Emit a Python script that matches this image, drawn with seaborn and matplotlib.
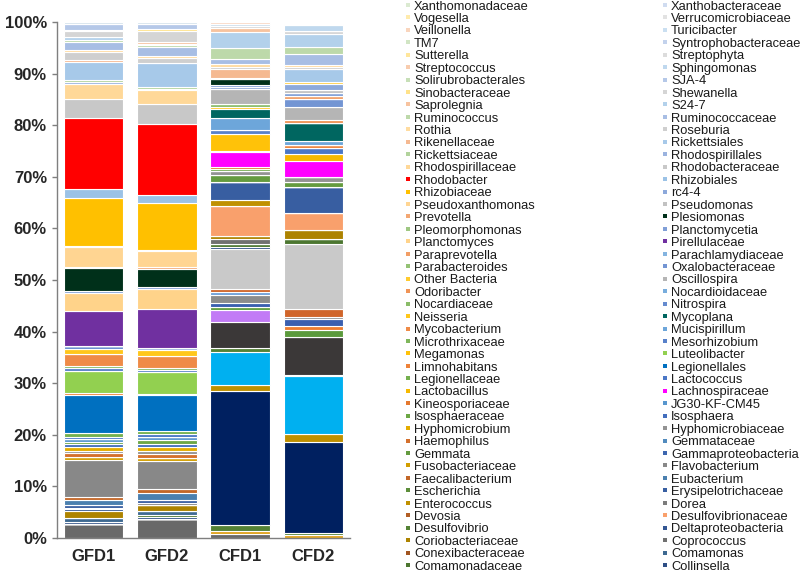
import numpy as np
import pandas as pd
import matplotlib
matplotlib.use('Agg')
import matplotlib.pyplot as plt
import seaborn as sns
from matplotlib.colors import to_rgb, to_hex
from matplotlib.patches import Rectangle

samples = ['GFD1', 'GFD2', 'CFD1', 'CFD2']

# series stacked below Collinsella whose names the original legend cut off
unlisted = ['unlisted_%02d' % i for i in range(1, 17)]

# legend taxa, bottom of the stack to top
taxa = ['Collinsella', 'Comamonadaceae', 'Comamonas', 'Conexibacteraceae', 'Coprococcus',
        'Coriobacteriaceae', 'Deltaproteobacteria', 'Desulfovibrio', 'Desulfovibrionaceae',
        'Devosia', 'Dorea', 'Enterococcus', 'Erysipelotrichaceae', 'Escherichia', 'Eubacterium',
        'Faecalibacterium', 'Flavobacterium', 'Fusobacteriaceae', 'Gammaproteobacteria', 'Gemmata',
        'Gemmataceae', 'Haemophilus', 'Hyphomicrobiaceae', 'Hyphomicrobium', 'Isosphaera',
        'Isosphaeraceae', 'JG30-KF-CM45', 'Kineosporiaceae', 'Lachnospiraceae', 'Lactobacillus',
        'Lactococcus', 'Legionellaceae', 'Legionellales', 'Limnohabitans', 'Luteolibacter',
        'Megamonas', 'Mesorhizobium', 'Microthrixaceae', 'Mucispirillum', 'Mycobacterium',
        'Mycoplana', 'Neisseria', 'Nitrospira', 'Nocardiaceae', 'Nocardioidaceae', 'Odoribacter',
        'Oscillospira', 'Other Bacteria', 'Oxalobacteraceae', 'Parabacteroides',
        'Parachlamydiaceae', 'Paraprevotella', 'Pirellulaceae', 'Planctomyces', 'Planctomycetia',
        'Pleomorphomonas', 'Plesiomonas', 'Prevotella', 'Pseudomonas', 'Pseudoxanthomonas',
        'rc4-4', 'Rhizobiaceae', 'Rhizobiales', 'Rhodobacter', 'Rhodobacteraceae',
        'Rhodospirillaceae', 'Rhodospirillales', 'Rickettsiaceae', 'Rickettsiales', 'Rikenellaceae',
        'Roseburia', 'Rothia', 'Ruminococcaceae', 'Ruminococcus', 'S24-7', 'Saprolegnia',
        'Shewanella', 'Sinobacteraceae', 'SJA-4', 'Solirubrobacterales', 'Sphingomonas',
        'Streptococcus', 'Streptophyta', 'Sutterella', 'Syntrophobacteraceae', 'TM7',
        'Turicibacter', 'Veillonella', 'Verrucomicrobiaceae', 'Vogesella', 'Xanthobacteraceae',
        'Xanthomonadaceae']

# relative abundance (%)
gfd1 = {'unlisted_01': 2.7, 'Collinsella': 0.4, 'Comamonas': 0.7, 'Coriobacteriaceae': 1.4,
        'Deltaproteobacteria': 0.4, 'Desulfovibrio': 0.3, 'Erysipelotrichaceae': 0.4,
        'Eubacterium': 1.1, 'Faecalibacterium': 0.6, 'Flavobacterium': 7.2,
        'Fusobacteriaceae': 0.5, 'Haemophilus': 0.7, 'Hyphomicrobiaceae': 0.5,
        'Hyphomicrobium': 0.7, 'Isosphaera': 0.6, 'Isosphaeraceae': 0.4, 'JG30-KF-CM45': 0.5,
        'Lactococcus': 0.5, 'Legionellaceae': 0.8, 'Legionellales': 7.4, 'Limnohabitans': 0.3,
        'Luteolibacter': 4.3, 'Mesorhizobium': 0.6, 'Microthrixaceae': 0.3, 'Mycobacterium': 2.3,
        'Neisseria': 1.1, 'Nitrospira': 0.5, 'Pirellulaceae': 6.8, 'Planctomyces': 3.5,
        'Planctomycetia': 0.4, 'Plesiomonas': 4.4, 'Prevotella': 0.3, 'Pseudoxanthomonas': 3.7,
        'rc4-4': 0.2, 'Rhizobiaceae': 9.3, 'Rhizobiales': 1.8, 'Rhodobacter': 13.7,
        'Rhodobacteraceae': 3.8, 'Rhodospirillaceae': 2.8, 'Rhodospirillales': 0.4,
        'Rickettsiaceae': 0.5, 'Rickettsiales': 3.5, 'Rikenellaceae': 0.3, 'Roseburia': 1.5,
        'Rothia': 0.5, 'Ruminococcaceae': 1.6, 'Ruminococcus': 0.4, 'S24-7': 0.4,
        'Shewanella': 1.3, 'Sinobacteraceae': 0.2, 'SJA-4': 1.1, 'Sphingomonas': 0.4}

gfd2 = {'unlisted_01': 3.6, 'Collinsella': 0.5, 'Comamonadaceae': 0.3, 'Comamonas': 0.9,
        'Coriobacteriaceae': 1.0, 'Dorea': 0.5, 'Erysipelotrichaceae': 0.5, 'Eubacterium': 1.4,
        'Faecalibacterium': 0.7, 'Flavobacterium': 5.5, 'Fusobacteriaceae': 0.7,
        'Haemophilus': 0.6, 'Hyphomicrobiaceae': 0.7, 'Hyphomicrobium': 0.7, 'Isosphaera': 0.7,
        'Isosphaeraceae': 0.7, 'JG30-KF-CM45': 0.6, 'Lactococcus': 0.5, 'Legionellaceae': 0.7,
        'Legionellales': 6.9, 'Limnohabitans': 0.3, 'Luteolibacter': 4.2, 'Mesorhizobium': 0.4,
        'Microthrixaceae': 0.3, 'Mycobacterium': 2.4, 'Neisseria': 1.1, 'Nitrospira': 0.4,
        'Pirellulaceae': 7.5, 'Planctomyces': 3.9, 'Planctomycetia': 0.5, 'Plesiomonas': 3.4,
        'Prevotella': 0.5, 'Pseudoxanthomonas': 3.0, 'rc4-4': 0.3, 'Rhizobiaceae': 9.0,
        'Rhizobiales': 1.5, 'Rhodobacter': 13.8, 'Rhodobacteraceae': 3.9,
        'Rhodospirillaceae': 2.7, 'Rhodospirillales': 0.3, 'Rickettsiaceae': 0.4,
        'Rickettsiales': 4.5, 'Roseburia': 1.1, 'Rothia': 0.4, 'Ruminococcaceae': 1.7,
        'Ruminococcus': 0.3, 'S24-7': 0.3, 'Saprolegnia': 0.3, 'Shewanella': 2.2,
        'Sinobacteraceae': 0.3, 'SJA-4': 1.0, 'Sphingomonas': 0.4}

cfd1 = {'unlisted_01': 0.8, 'unlisted_02': 0.6, 'unlisted_03': 1.1, 'unlisted_04': 26.0,
        'unlisted_05': 1.1, 'unlisted_06': 6.4, 'unlisted_07': 0.9, 'unlisted_08': 5.0,
        'unlisted_09': 2.3, 'unlisted_10': 0.5, 'unlisted_12': 0.8, 'unlisted_13': 1.5,
        'unlisted_14': 0.6, 'unlisted_15': 0.6, 'unlisted_16': 7.9, 'Collinsella': 0.3,
        'Comamonadaceae': 0.5, 'Coprococcus': 1.0, 'Coriobacteriaceae': 0.6,
        'Desulfovibrionaceae': 5.8, 'Enterococcus': 1.2, 'Erysipelotrichaceae': 3.5,
        'Gemmata': 1.3, 'Hyphomicrobiaceae': 0.8, 'Isosphaeraceae': 0.4, 'Kineosporiaceae': 0.4,
        'Lachnospiraceae': 2.9, 'Lactobacillus': 0.2, 'Megamonas': 3.3, 'Mesorhizobium': 0.7,
        'Mucispirillum': 2.3, 'Mycoplana': 1.8, 'Neisseria': 0.5, 'Nocardiaceae': 0.6,
        'Oscillospira': 2.8, 'Oxalobacteraceae': 0.4, 'Planctomycetia': 0.4, 'Plesiomonas': 1.1,
        'Pseudomonas': 0.3, 'Rikenellaceae': 1.6, 'Roseburia': 0.5, 'Rothia': 0.6,
        'Ruminococcaceae': 0.9, 'Ruminococcus': 2.2, 'S24-7': 3.1, 'Saprolegnia': 0.7,
        'Shewanella': 0.5, 'Sphingomonas': 0.4, 'Veillonella': 0.3}

cfd2 = {'unlisted_02': 0.6, 'unlisted_03': 0.4, 'unlisted_04': 17.7, 'unlisted_05': 1.5,
        'unlisted_06': 11.1, 'unlisted_07': 0.3, 'unlisted_08': 7.4, 'unlisted_10': 1.4,
        'unlisted_11': 0.7, 'unlisted_12': 1.4, 'unlisted_13': 0.4, 'unlisted_15': 1.4,
        'unlisted_16': 12.7, 'Comamonadaceae': 1.0, 'Coriobacteriaceae': 1.7,
        'Desulfovibrionaceae': 3.2, 'Erysipelotrichaceae': 5.1, 'Gemmata': 0.9,
        'Hyphomicrobiaceae': 1.0, 'Lachnospiraceae': 3.2, 'Lactobacillus': 1.4,
        'Lactococcus': 1.0, 'Limnohabitans': 0.6, 'Mucispirillum': 0.9, 'Mycoplana': 3.4,
        'Odoribacter': 0.6, 'Oscillospira': 2.5, 'Oxalobacteraceae': 1.6, 'Paraprevotella': 0.6,
        'Planctomycetia': 0.5, 'Pseudomonas': 0.6, 'rc4-4': 1.1, 'Rhizobiaceae': 0.5,
        'Rickettsiales': 2.4, 'Roseburia': 0.4, 'Rothia': 0.4, 'Ruminococcaceae': 2.2,
        'Ruminococcus': 1.3, 'S24-7': 2.6, 'Shewanella': 0.6, 'Sphingomonas': 1.1,
        'Streptophyta': 0.3}

# colours: Office accent cycle, darker at the bottom of the stack, lighter on top
office = ['#4472C4', '#70AD47', '#5B9BD5', '#ED7D31', '#A5A5A5', '#FFC000']


def shade(i):
    rgb = np.array(to_rgb(office[i % 6]))
    t = -0.32 + (i // 6) * 0.0713
    rgb = rgb * (1 + t) if t < 0 else rgb + (1 - rgb) * t
    return to_hex(rgb)


palette = {name: shade(i) for i, name in enumerate(taxa)}
palette.update({'Desulfovibrionaceae': '#F9A06C', 'Lachnospiraceae': '#FF00FF',
                'Legionellales': '#0070C0', 'Luteolibacter': '#92D050', 'Mycoplana': '#006660',
                'Pirellulaceae': '#7030A0', 'Plesiomonas': '#00301A', 'Rhizobiaceae': '#FFC000',
                'Rhodobacter': '#FF0000', 'Planctomyces': '#FFD38A',
                'Pseudoxanthomonas': '#FFD592', 'Rhodospirillaceae': '#FFD898',
                'Rothia': '#FFDCA0'})
unlisted_colors = ['#696969', '#E0A21B', '#548235', '#002060', '#BF9000', '#00B0F0',
                   '#548235', '#3B3838', '#C27BF6', '#5B9A3C', '#ED7D31', '#3A5FAF',
                   '#8C8C8C', '#6FA0D8', '#D0652A', '#C9C9C9']
palette.update(dict(zip(unlisted, unlisted_colors)))

order = unlisted + taxa  # bottom to top

frames = []
for s, vals in zip(samples, [gfd1, gfd2, cfd1, cfd2]):
    col = pd.Series(vals).reindex(order).fillna(0.0)
    frames.append(pd.DataFrame({'sample': s, 'taxon': order, 'pct': col.values}))
df = pd.concat(frames, ignore_index=True)

sns.set_style('white')
plt.rcParams['font.family'] = ['Liberation Sans', 'DejaVu Sans']

fig = plt.figure(figsize=(8, 5.76), dpi=100)
ax = fig.add_axes([57 / 800, 38 / 576, 293 / 800, 516 / 576])

# histplot stacks the last hue level at the bottom
sns.histplot(data=df, x='sample', weights='pct', hue='taxon', hue_order=order[::-1],
             palette=palette, multiple='stack', shrink=0.815, alpha=1,
             edgecolor='white', linewidth=0.8, legend=False, ax=ax)

ax.set_xlim(-0.5, 3.5)
ax.set_ylim(0, 100)
ax.set_yticks(range(0, 101, 10))
ax.set_yticklabels([f'{v}%' for v in range(0, 101, 10)], fontsize=12, fontweight='bold')
ax.set_xticks(range(4))
ax.set_xticklabels(samples, fontsize=12, fontweight='bold')
ax.set_xticks([-0.5, 0.5, 1.5, 2.5, 3.5], minor=True)
ax.tick_params(axis='x', which='major', length=0, pad=8)
ax.tick_params(axis='x', which='minor', length=3.6, width=1, color='#7F7F7F', direction='out')
ax.tick_params(axis='y', length=3.6, width=1, color='#7F7F7F', direction='out', pad=3.6, left=True)
ax.set_xlabel('')
ax.set_ylabel('')
for side in ['top', 'right']:
    ax.spines[side].set_visible(False)
for side in ['left', 'bottom']:
    ax.spines[side].set_color('#7F7F7F')
    ax.spines[side].set_linewidth(1)

# two-column legend, read row by row, top series first
legend_names = taxa[::-1]
for i, name in enumerate(legend_names):
    row, col = divmod(i, 2)
    base = 576 - (9.5 + row * 12.45)
    xm = [405.5, 662.5][col]
    xt = [414, 671][col]
    fig.add_artist(Rectangle((xm / 800, (base + 2.7) / 576), 4 / 800, 4 / 576,
                             transform=fig.transFigure, facecolor=palette[name],
                             edgecolor='none'))
    fig.text(xt / 800, base / 576, name, fontsize=9.3, va='baseline', ha='left',
             color='#1A1A1A')

fig.savefig('out.png', dpi=100)
